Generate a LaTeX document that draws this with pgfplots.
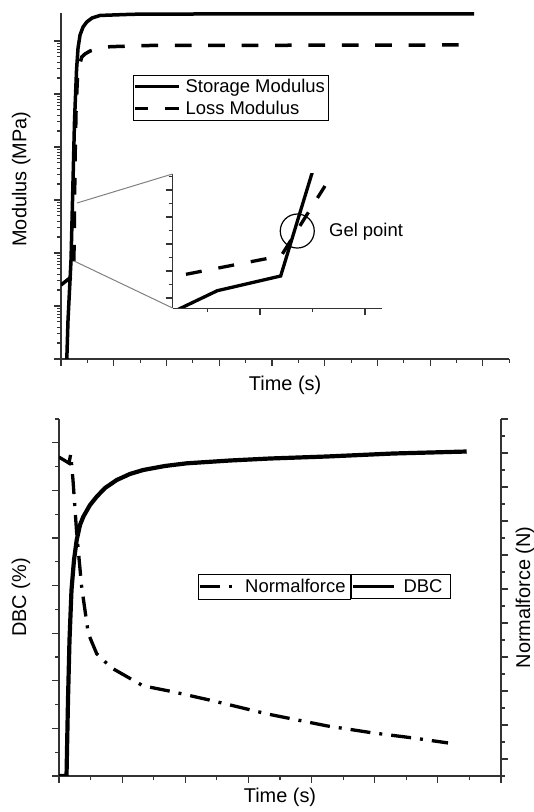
\documentclass[border=0pt]{standalone}
\usepackage{fontspec}
\setmainfont{Liberation Sans}
\usepackage{pgfplots}
\pgfplotsset{compat=1.18}

\pgfplotsset{
  every axis/.append style={
    scale only axis,
    axis line style={black!80, line width=1.1bp},
    tick style={black!80, line width=1.1bp},
    tick align=outside,
    major tick length=7bp, minor tick length=4bp,
    xticklabel=\empty, yticklabel=\empty,
    label style={font=\fontsize{20}{24}\selectfont},
    legend cell align=left,
    legend style={font=\fontsize{18.5}{22}\selectfont, draw=black, line width=0.8bp,
      nodes={inner sep=0pt}, column sep=5bp},
  },
}

\begin{document}
\begin{tikzpicture}
\path[use as bounding box] (0bp,0bp) rectangle (534bp,812bp);

% ---- top panel: moduli (log scale)
\begin{axis}[
    name=top, at={(61bp,453bp)}, anchor=south west,
    width=448.3bp, height=346bp,
    ymode=log, xmin=0, xmax=850, ymin=1e-4, ymax=337,
    axis x line*=bottom, axis y line*=left,
    xtick distance=100, minor x tick num=1,
    ytick={1e-4,1e-3,1e-2,1e-1,1,10,100},
    xlabel={Time (s)}, ylabel={Modulus (MPa)},
    xlabel style={at={(axis description cs:0.5,-0.075)}, anchor=center},
    ylabel style={at={(axis description cs:-0.089,0.52)}, anchor=center},
    legend style={at={(rel axis cs:0.1606,0.8208)}, anchor=north west,
      inner xsep=0bp, inner ysep=4bp, row sep=7bp},
    legend image code/.code={\draw[#1, line width=3.2bp] (0bp,0bp) -- (44bp,0bp);},
]
% storage modulus
\addplot[black, line width=3.5bp] coordinates {
  (10.08,5e-5)(13.31,5.44e-4)(19.01,7.38e-3)(22.81,0.238)(25.67,3.23)
  (29.47,28.4)(32.32,73.8)(36.12,129.7)(41.83,183.6)(48.86,228)(58.94,271.6)
  (74.14,303)(136.9,319)(264.3,323)(783.3,323)
};
\addlegendentry{Storage Modulus\rule{3bp}{0pt}}
% loss modulus
\addplot[black, line width=3.5bp, dash pattern=on 16.7bp off 16.7bp, dash phase=3.7bp] coordinates {
  (0,2.49e-3)(24.14,3.85e-3)(25.29,0.042)(26.62,0.569)(28.52,4.99)(31.37,22.8)
  (35.17,35.2)(39.35,49.9)(45.63,56.9)(55.13,64.7)(68.44,70.6)(93.16,78.0)
  (169.2,82.2)(783.3,84.1)
};
\addlegendentry{Loss Modulus}
\coordinate (z1) at (axis cs:30.42,0.0877);
\coordinate (z2) at (axis cs:24.71,7.06e-3);
\end{axis}

% ---- inset around the gel point
\begin{axis}[
    name=inset, at={(172.5bp,504bp)}, anchor=south west,
    width=209.5bp, height=134bp,
    xmin=24.1667, xmax=26.162, ymin=-0.37, ymax=4.593,
    axis x line*=bottom, axis y line*=left, clip mode=individual,
    axis line style={black!80, line width=0.9bp},
    xtick={25,26}, minor xtick={24.5,25.5},
    ytick={0,1,2,3,4}, minor ytick={0.5,1.5,2.5,3.5,4.5},
]
\addplot[black, line width=3.3bp] coordinates {
  (24.19,-0.48)(24.593,0.270)(25.197,0.815)(25.51,4.81)
};
\addplot[black, line width=3.3bp, dash pattern=on 16bp off 17bp] coordinates {
  (24.295,0.878)(25.079,1.470)(25.207,1.593)(25.445,3.074)(25.619,4.148)
};
\draw[black, line width=1.2bp] (axis cs:25.355,2.48) circle[radius=17bp];
\node[anchor=west, font=\fontsize{18.5}{22}\selectfont, inner sep=0pt] at (axis cs:25.657,2.456) {Gel point};
\end{axis}
\draw[black!50, line width=1bp] (z1) -- (inset.north west) (z2) -- (inset.south west);

% ---- bottom panel: DBC (left axis)
\begin{axis}[
    at={(59bp,36bp)}, anchor=south west,
    width=442bp, height=357bp,
    xmin=0, xmax=700, ymin=0, ymax=75,
    axis x line*=bottom, axis y line*=left,
    xtick distance=100, minor x tick num=1,
    ytick distance=10, minor y tick num=1,
    xlabel={Time (s)}, ylabel={DBC (\%)},
    xlabel style={at={(axis description cs:0.5,-0.059)}, anchor=center},
    ylabel style={at={(axis description cs:-0.086,0.5)}, anchor=center},
    legend style={at={(rel axis cs:0.6606,0.5658)}, anchor=north west,
      inner xsep=0bp, inner ysep=5bp, column sep=8bp},
    legend image code/.code={\draw[#1, line width=3.2bp] (0bp,0bp) -- (41bp,0bp);},
]
\addplot[black, line width=4.2bp] coordinates {
  (0,0)(11.9,0)(14.25,15.97)(16.63,28.57)(19.80,39.08)(23.76,45.38)(28.03,49.58)
  (33.26,52.73)(38.49,54.47)(49.10,56.93)(59.71,58.68)(72.85,60.50)(91.39,62.18)
  (112.4,63.45)(133.5,64.29)(167.9,65.13)(202.3,65.69)(270.8,66.28)(334.2,66.70)
  (424.0,67.12)(529.5,67.75)(645.7,68.17)
};
\addlegendentry{DBC\rule{8bp}{0pt}}
\end{axis}

% ---- bottom panel: normal force (right axis)
\begin{axis}[
    at={(59bp,36bp)}, anchor=south west,
    width=442bp, height=357bp,
    xmin=0, xmax=700, ymin=-0.5, ymax=10,
    axis x line=none, axis y line*=right,
    ytick distance=1, minor y tick num=1,
    ylabel={Normalforce (N)},
    ylabel style={at={(axis description cs:1.054,0.5)}, anchor=center},
    legend style={at={(rel axis cs:0.6606,0.5658)}, anchor=north east,
      inner xsep=0bp, inner ysep=5bp, column sep=9bp},
    legend image code/.code={\draw[#1, line width=3.2bp] (0bp,0bp) -- (35bp,0bp);},
]
\addplot[black, line width=3.3bp, dash pattern=on 20bp off 9bp on 3bp off 9bp] coordinates {
  (0,8.879)(15.84,8.702)(18.53,8.968)(22.17,8.201)(28.03,6.637)(35.95,5.053)
  (46.41,3.687)(59.71,3.097)(72.85,2.861)(85.52,2.655)(133.0,2.153)(180.6,1.976)
  (243.9,1.711)(329.4,1.327)(424.5,0.973)(497.3,0.767)(560.7,0.619)(616.1,0.472)
};
\addlegendentry{Normalforce\rule{5bp}{0pt}}
\end{axis}
\end{tikzpicture}
\end{document}
